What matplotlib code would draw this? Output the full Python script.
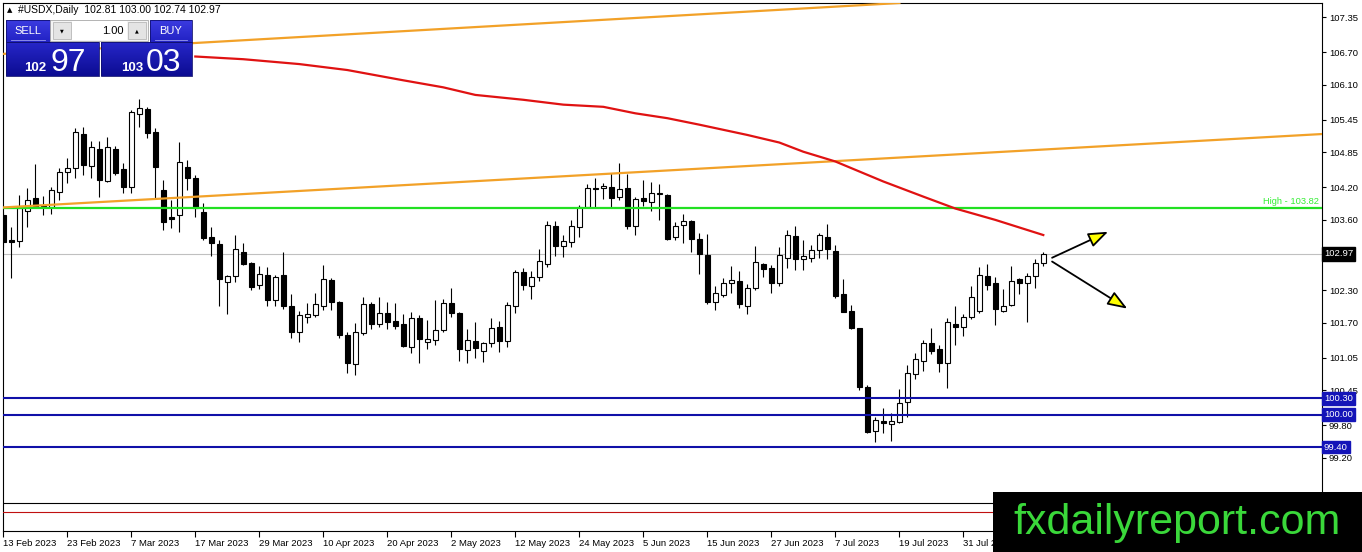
import matplotlib
matplotlib.use("Agg")
import matplotlib.pyplot as plt
import matplotlib.transforms as mtransforms
from matplotlib.patches import Rectangle
from matplotlib.colors import LinearSegmentedColormap
import numpy as np

plt.rcParams['font.family'] = ['Liberation Sans', 'DejaVu Sans']

# ---------------- data ----------------
opens = [103.69, 103.23, 103.21, 103.77, 104.01, 103.85, 103.84, 104.12, 104.49, 104.56,
         105.19, 104.60, 104.91, 104.32, 104.91, 104.54, 104.21, 105.56, 105.65, 105.23,
         104.16, 103.65, 103.69, 104.58, 104.38, 103.75, 103.29, 103.16, 102.46, 102.56,
         103.01, 102.81, 102.40, 102.58, 102.12, 102.58, 102.01, 101.53, 101.80, 101.84,
         102.01, 102.49, 102.09, 101.47, 100.94, 101.51, 102.05, 101.68, 101.88, 101.73,
         101.68, 101.25, 101.79, 101.34, 101.38, 101.56, 102.06, 101.88, 101.19, 101.36,
         101.17, 101.32, 101.62, 101.36, 102.01, 102.64, 102.38, 102.54, 102.79, 103.49,
         103.12, 103.19, 103.47, 103.84, 104.19, 104.19, 104.21, 104.03, 104.19, 103.49,
         104.01, 103.93, 104.07, 104.06, 103.29, 103.51, 103.58, 103.25, 102.95, 102.08,
         102.21, 102.43, 102.47, 102.01, 102.34, 102.79, 102.71, 102.43, 102.90, 103.30,
         102.88, 102.90, 103.04, 103.29, 103.02, 102.23, 101.92, 101.60, 100.51, 99.70,
         99.88, 99.82, 99.86, 100.23, 100.75, 100.99, 101.32, 101.21, 100.96, 101.68,
         101.62, 101.80, 101.92, 102.56, 102.43, 101.92, 102.03, 102.51, 102.43, 102.56,
         102.81]
highs = [103.75, 103.47, 104.06, 104.19, 104.64, 104.05, 104.21, 104.56, 104.75, 105.30,
         105.32, 105.06, 105.06, 105.14, 104.97, 104.66, 105.64, 105.84, 105.69, 105.30,
         104.34, 103.97, 105.04, 104.71, 104.43, 103.92, 103.47, 103.23, 102.58, 103.32,
         103.17, 102.82, 102.75, 102.73, 102.58, 103.01, 102.23, 101.92, 102.06, 102.25,
         102.77, 102.53, 102.10, 101.53, 101.70, 102.18, 102.09, 102.18, 102.09, 102.07,
         101.86, 101.90, 101.84, 101.75, 102.12, 102.14, 102.34, 101.90, 101.58, 101.71,
         101.34, 101.79, 101.73, 102.08, 102.68, 102.71, 102.66, 103.07, 103.58, 103.58,
         103.32, 103.60, 103.88, 104.26, 104.38, 104.28, 104.47, 104.66, 104.45, 104.03,
         104.34, 104.30, 104.26, 104.08, 103.56, 103.71, 103.59, 103.36, 103.34, 102.38,
         102.53, 102.75, 102.66, 102.42, 103.12, 102.80, 102.77, 103.10, 103.41, 103.49,
         103.23, 103.14, 103.36, 103.52, 103.14, 102.51, 102.03, 101.61, 100.55, 99.96,
         100.12, 100.03, 100.47, 100.92, 101.14, 101.38, 101.60, 101.29, 101.79, 102.00,
         101.86, 102.38, 102.73, 102.79, 102.54, 102.32, 102.75, 102.53, 102.62, 102.88,
         103.00]
lows = [103.10, 102.53, 103.10, 103.47, 103.82, 103.69, 103.71, 103.97, 104.29, 104.38,
        104.43, 104.38, 104.03, 104.30, 104.43, 104.10, 104.10, 105.32, 105.12, 103.99,
        103.41, 103.45, 103.38, 104.16, 103.65, 103.23, 102.93, 102.00, 101.86, 102.46,
        102.77, 102.31, 102.33, 102.00, 102.00, 101.95, 101.41, 101.35, 101.70, 101.80,
        101.93, 101.94, 101.41, 100.77, 100.74, 101.47, 101.58, 101.62, 101.58, 101.58,
        101.25, 101.14, 100.96, 101.21, 101.29, 101.53, 101.80, 100.99, 100.96, 101.05,
        100.97, 101.25, 101.16, 101.25, 101.88, 102.31, 102.14, 102.47, 102.73, 102.93,
        102.91, 103.10, 103.29, 103.84, 103.84, 103.99, 103.84, 103.97, 103.43, 103.32,
        103.86, 103.77, 103.60, 103.23, 103.23, 103.18, 103.01, 102.60, 102.05, 101.93,
        102.18, 102.25, 101.97, 101.86, 102.31, 102.54, 102.25, 102.38, 102.71, 102.67,
        102.67, 102.82, 102.90, 102.88, 102.16, 101.89, 101.59, 100.45, 99.66, 99.49,
        99.66, 99.51, 99.84, 99.96, 100.66, 100.81, 101.12, 100.79, 100.49, 101.29,
        101.45, 101.77, 101.88, 102.31, 101.65, 101.90, 102.01, 102.23, 101.71, 102.34,
        102.74]
closes = [103.19, 103.19, 103.82, 103.97, 103.84, 103.83, 104.16, 104.49, 104.56, 105.23,
          104.62, 104.95, 104.34, 104.95, 104.47, 104.21, 105.60, 105.67, 105.21, 104.58,
          103.56, 103.61, 104.67, 104.38, 103.82, 103.27, 103.18, 102.50, 102.56, 103.06,
          102.79, 102.36, 102.60, 102.12, 102.54, 102.00, 101.52, 101.84, 101.86, 102.04,
          102.51, 102.09, 101.47, 100.96, 101.53, 102.05, 101.68, 101.88, 101.71, 101.64,
          101.27, 101.79, 101.40, 101.40, 101.56, 102.06, 101.88, 101.21, 101.38, 101.23,
          101.32, 101.60, 101.36, 102.03, 102.64, 102.40, 102.55, 102.84, 103.51, 103.12,
          103.21, 103.49, 103.84, 104.19, 104.17, 104.23, 104.01, 104.17, 103.49, 103.99,
          103.95, 104.10, 104.09, 103.25, 103.49, 103.58, 103.25, 102.97, 102.08, 102.25,
          102.43, 102.49, 102.05, 102.34, 102.82, 102.69, 102.43, 102.95, 103.32, 102.88,
          102.93, 103.04, 103.32, 103.06, 102.19, 101.90, 101.60, 100.51, 99.68, 99.90,
          99.84, 99.88, 100.21, 100.77, 101.03, 101.32, 101.17, 100.96, 101.71, 101.62,
          101.80, 102.18, 102.58, 102.40, 101.95, 102.01, 102.47, 102.43, 102.56, 102.81,
          102.97]

date_label_bars = [1, 9, 17, 25, 33, 41, 49, 57, 65, 73, 81, 89, 97, 105, 113, 121]
date_labels = ['13 Feb 2023', '23 Feb 2023', '7 Mar 2023', '17 Mar 2023', '29 Mar 2023',
               '10 Apr 2023', '20 Apr 2023', '2 May 2023', '12 May 2023', '24 May 2023',
               '5 Jun 2023', '15 Jun 2023', '27 Jun 2023', '7 Jul 2023', '19 Jul 2023',
               '31 Jul 2023']

ma_bars = [25, 31, 38, 44, 51, 56, 60, 66, 71, 76, 80, 84, 88, 94, 98, 101, 105, 111, 116, 120, 125, 131]
ma_vals = [106.62, 106.57, 106.48, 106.37, 106.18, 106.05, 105.91, 105.82, 105.73, 105.69, 105.57,
           105.48, 105.36, 105.17, 105.03, 104.86, 104.68, 104.31, 104.03, 103.81, 103.60, 103.32]

channel_upper = [(25, 106.87), (131, 107.76)]
channel_lower = [(1, 103.83), (131, 104.90)]

y_ticks = [107.35, 106.70, 106.10, 105.45, 104.85, 104.20, 103.60, 102.30, 101.70, 101.05,
           100.45, 99.80, 99.20]
high_level = 103.82
bid_price = 102.97
support_levels = [100.30, 100.00, 99.40]
low_black_level = 98.36
low_red_level = 98.20

arrow_up = [(132.1, 102.90), (139.1, 103.38)]
arrow_down = [(132.1, 102.83), (141.5, 101.96)]

header_symbol = '#USDX,Daily'
header_ohlc = ['102.81', '103.00', '102.74', '102.97']
sell_price = ('102', '97')
buy_price = ('103', '03')
lot_size = '1.00'

# ---------------- figure ----------------
W, H = 1362, 552
fig = plt.figure(figsize=(W / 100, H / 100), dpi=100)
ax = fig.add_axes([3 / W, 21 / H, 1319 / W, 528 / H])
ax.set_xlim(0.9625, 165.84)
ax.set_ylim(97.849, 107.609)
ax.set_facecolor('white')

n = len(opens)
bars = np.arange(1, n + 1)
o = np.array(opens); c = np.array(closes); h = np.array(highs); l = np.array(lows)
up = c >= o

ax.vlines(bars, l, h, color='black', lw=0.8, zorder=2)
ax.bar(bars[up], (c - o)[up], bottom=o[up], width=0.62, color='white',
       edgecolor='black', linewidth=0.8, zorder=3)
ax.bar(bars[~up], (o - c)[~up], bottom=c[~up], width=0.62, color='black',
       edgecolor='black', linewidth=0.8, zorder=3)

# horizontal objects
ax.axhline(bid_price, color='#c0c0c0', lw=0.8, zorder=1)
ax.axhline(high_level, color='#22e022', lw=1.6, zorder=4)
for lv in support_levels:
    ax.axhline(lv, color='#1010a8', lw=1.5, zorder=4)
ax.axhline(low_black_level, color='black', lw=0.8, zorder=4)
ax.axhline(low_red_level, color='#c01010', lw=0.8, zorder=4)

# channel lines & moving average
ax.axline(channel_upper[0], channel_upper[1], color='#f2a128', lw=1.6, zorder=4)
ax.axline(channel_lower[0], channel_lower[1], color='#f2a128', lw=1.6, zorder=4)
ax.plot(ma_bars, ma_vals, color='#e01212', lw=1.6, zorder=5)

btrans = mtransforms.blended_transform_factory(ax.transAxes, ax.transData)
ax.text(0.998, high_level + 0.03, 'High - %.2f' % high_level, transform=btrans,
        ha='right', va='bottom', color='#33ee33', fontsize=6.7, zorder=6)

# arrows
for (p0, p1) in (arrow_up, arrow_down):
    ax.annotate('', xy=p1, xytext=p0,
                arrowprops=dict(arrowstyle='-|>,head_length=0.8,head_width=0.3',
                                fc='#ffff00', ec='black', lw=1.3,
                                mutation_scale=15, shrinkA=0, shrinkB=0),
                zorder=7)

# axes styling
for s in ax.spines.values():
    s.set_color('black'); s.set_linewidth(0.8)
ax.yaxis.tick_right()
ax.set_yticks(y_ticks)
ax.set_yticklabels(['%.2f' % v for v in y_ticks])
ax.tick_params(axis='y', direction='out', length=3, width=0.8, pad=2, labelsize=6.8, colors='black')
ax.set_xticks(date_label_bars)
ax.set_xticklabels(date_labels, ha='left')
ax.tick_params(axis='x', direction='out', length=4, width=0.8, pad=2, labelsize=6.8, colors='black')

# price labels on right axis
ax.text(1.0015, bid_price, '%.2f' % bid_price, transform=btrans, ha='left', va='center',
        color='white', fontsize=6.8, clip_on=False, zorder=8,
        bbox=dict(boxstyle='square,pad=0.22', fc='black', ec='black'))
for lv in support_levels:
    ax.text(1.0015, lv, '%.2f' % lv, transform=btrans, ha='left', va='center',
            color='white', fontsize=6.8, clip_on=False, zorder=8,
            bbox=dict(boxstyle='square,pad=0.2', fc='#1414b8', ec='#1414b8'))

# ---------------- overlay (trade panel, header, watermark) ----------------
ov = fig.add_axes([0, 0, 1, 1], zorder=10)
ov.set_xlim(0, W); ov.set_ylim(H, 0); ov.axis('off'); ov.patch.set_alpha(0)

ov.text(7, 10, '\u25b2', fontsize=5, ha='left', va='center', family=['DejaVu Sans'])
ov.text(18, 10, header_symbol + '  ' + ' '.join(header_ohlc), fontsize=7.5, ha='left', va='center')

grad = np.linspace(0, 1, 50).reshape(-1, 1)
cm_btn = LinearSegmentedColormap.from_list('btn', ['#3b3be0', '#2222c4'])
cm_box = LinearSegmentedColormap.from_list('box', ['#2626c8', '#0c0c92'])

def gbox(x0, y0, w, h, cmap):
    ov.imshow(grad, extent=[x0, x0 + w, y0 + h, y0], cmap=cmap, aspect='auto', zorder=1, interpolation='bilinear')
    ov.add_patch(Rectangle((x0, y0), w, h, fill=False, ec='#101070', lw=0.6, zorder=2))

gbox(6, 20, 44, 22, cm_btn)
gbox(150, 20, 42, 22, cm_btn)
gbox(6, 42, 93, 34, cm_box)
gbox(101, 42, 91, 34, cm_box)
ov.plot([11, 45], [40, 40], color='#9a9af0', lw=0.6, zorder=3)
ov.plot([155, 187], [40, 40], color='#9a9af0', lw=0.6, zorder=3)
ov.text(28, 30.5, 'SELL', color='white', fontsize=8, ha='center', va='center', zorder=4)
ov.text(171, 30.5, 'BUY', color='white', fontsize=8, ha='center', va='center', zorder=4)

ov.add_patch(Rectangle((50, 20), 98, 21, fc='#f4f4f4', ec='#a8a8a8', lw=0.6, zorder=2))
ov.add_patch(Rectangle((53, 22), 18, 17, fc='#e4e4e4', ec='#b8b8b8', lw=0.6, zorder=3))
ov.add_patch(Rectangle((72, 21), 55, 19, fc='white', ec='none', zorder=3))
ov.add_patch(Rectangle((128, 22), 18, 17, fc='#e4e4e4', ec='#b8b8b8', lw=0.6, zorder=3))
ov.text(62, 30.5, '\u25bc', fontsize=3.5, ha='center', va='center', family=['DejaVu Sans'], zorder=4)
ov.text(137, 30.5, '\u25b2', fontsize=3.5, ha='center', va='center', family=['DejaVu Sans'], zorder=4)
ov.text(124, 30.5, lot_size, fontsize=8, ha='right', va='center', zorder=4)

ov.text(46, 71, sell_price[0], color='white', fontsize=9.5, fontweight='bold', ha='right', va='baseline', zorder=4)
ov.text(51, 71, sell_price[1], color='white', fontsize=23, ha='left', va='baseline', zorder=4)
ov.text(143, 71, buy_price[0], color='white', fontsize=9.5, fontweight='bold', ha='right', va='baseline', zorder=4)
ov.text(146, 71, buy_price[1], color='white', fontsize=23, ha='left', va='baseline', zorder=4)

# watermark
ov.add_patch(Rectangle((993, 492), W - 993, H - 492, fc='black', ec='none', zorder=5))
ov.text(1177, 523, 'fxdailyreport.com', color='#3ad83a', fontsize=31, ha='center', va='center', zorder=6)

fig.savefig('out.png', dpi=100)
